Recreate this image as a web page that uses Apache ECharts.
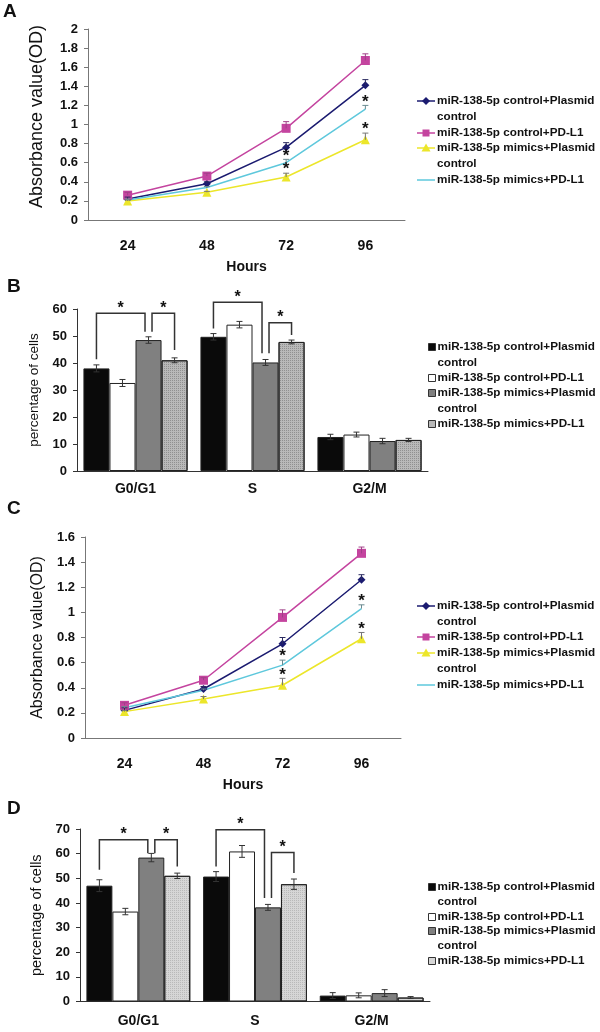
<!DOCTYPE html>
<html><head><meta charset="utf-8">
<script src="https://cdn.jsdelivr.net/npm/echarts@6/dist/echarts.min.js"></script>
<style>html,body{margin:0;padding:0;background:#fff}#c{width:600px;height:1032px}</style>
</head><body><div id="c"></div>
<script>
// ---------- data ----------
const hours = ['24', '48', '72', '96'];
const phases = ['G0/G1', 'S', 'G2/M'];
const groupNames = ['miR-138-5p control+Plasmid control', 'miR-138-5p control+PD-L1', 'miR-138-5p mimics+Plasmid control', 'miR-138-5p mimics+PD-L1'];
const legendLabels = ['miR-138-5p control+Plasmid\ncontrol', 'miR-138-5p control+PD-L1', 'miR-138-5p mimics+Plasmid\ncontrol', 'miR-138-5p mimics+PD-L1'];

// Panel A: absorbance (OD)
const odA_ctrlPlasmid = [0.22, 0.38, 0.76, 1.41];
const odA_ctrlPDL1    = [0.26, 0.46, 0.96, 1.67];
const odA_mimPlasmid  = [0.20, 0.29, 0.45, 0.84];
const odA_mimPDL1     = [0.21, 0.34, 0.60, 1.16];
const errA_ctrlPlasmid = [0.02, 0.02, 0.05, 0.06];
const errA_ctrlPDL1    = [0.03, 0.03, 0.07, 0.07];
const errA_mimPlasmid  = [0.01, 0.01, 0.04, 0.07];
const errA_mimPDL1     = [0.01, 0.01, 0.035, 0.04];
const starA_mimPlasmid = [0, 0, 1, 1];
const starA_mimPDL1    = [0, 0, 1, 1];

// Panel B: cell cycle (%)
const pctB_ctrlPlasmid = [38.0, 49.7, 12.6];
const pctB_ctrlPDL1    = [32.6, 54.2, 13.5];
const pctB_mimPlasmid  = [48.5, 40.2, 11.1];
const pctB_mimPDL1     = [41.0, 47.8, 11.5];
const errB_ctrlPlasmid = [1.3, 1.2, 1.0];
const errB_ctrlPDL1    = [1.3, 1.2, 0.9];
const errB_mimPlasmid  = [1.2, 1.1, 1.0];
const errB_mimPDL1     = [0.9, 0.7, 0.6];
// significance brackets: [phase, fromGroup, toGroup, topValue, leftEndValue, rightEndValue]
const bracketsB = [[0, 0, 2, 58.4, 41.4, 51.6], [0, 2, 3, 58.4, 51.6, 44.8], [1, 0, 2, 62.5, 52.8, 43.6], [1, 2, 3, 54.9, 43.6, 50.4]];

// Panel C: absorbance (OD)
const odC_ctrlPlasmid = [0.22, 0.39, 0.75, 1.26];
const odC_ctrlPDL1    = [0.26, 0.46, 0.96, 1.47];
const odC_mimPlasmid  = [0.21, 0.31, 0.42, 0.79];
const odC_mimPDL1     = [0.24, 0.38, 0.58, 1.03];
const errC_ctrlPlasmid = [0.02, 0.02, 0.05, 0.04];
const errC_ctrlPDL1    = [0.02, 0.02, 0.06, 0.05];
const errC_mimPlasmid  = [0.01, 0.02, 0.055, 0.05];
const errC_mimPDL1     = [0.01, 0.01, 0.04, 0.03];
const starC_mimPlasmid = [0, 0, 1, 1];
const starC_mimPDL1    = [0, 0, 1, 1];

// Panel D: cell cycle (%)
const pctD_ctrlPlasmid = [47.0, 50.7, 2.4];
const pctD_ctrlPDL1    = [36.5, 60.9, 2.5];
const pctD_mimPlasmid  = [58.4, 38.2, 3.4];
const pctD_mimPDL1     = [51.0, 47.6, 1.6];
const errD_ctrlPlasmid = [2.4, 2.0, 1.2];
const errD_ctrlPDL1    = [1.3, 2.4, 1.0];
const errD_mimPlasmid  = [1.7, 1.2, 1.4];
const errD_mimPDL1     = [1.1, 2.1, 0.4];
const bracketsD = [[0, 0, 2, 65.6, 53.5, 60.2], [0, 2, 3, 65.6, 60.2, 54.8], [1, 0, 2, 69.7, 54.8, 42.0], [1, 2, 3, 60.5, 42.0, 52.1]];

// ---------- styles ----------
const FONT = '"Liberation Sans", Arial, sans-serif';
const lineColors = ['#1b1b70', '#c4449f', '#ece62a', '#5ec8dc'];
const errColors = ['#2a2a60', '#a04088', '#777777', '#6a8a90'];
const symbols = ['diamond', 'rect', 'triangle', 'none'];
const symbolSizes = [8, 9, 9, 0];
const barColorsB = ['#0a0a0a', '#ffffff', '#808080', '#b9b9b9'];
const barColorsD = ['#0a0a0a', '#ffffff', '#808080', '#d6d6d6'];
const CAT_GAP = 0.11;

const grids = [
  {left: 88, top: 29, width: 317, height: 191},
  {left: 77, top: 309, width: 351, height: 162},
  {left: 85, top: 537, width: 316, height: 201},
  {left: 80, top: 829, width: 350, height: 172.5}
];

function lineXAxis(gi) {
  return {
    type: 'category', gridIndex: gi, data: hours, boundaryGap: true,
    axisLine: {lineStyle: {color: '#777', width: 1}},
    axisTick: {inside: true, length: 4, lineStyle: {color: '#777'}},
    axisLabel: {margin: 19, fontFamily: FONT, fontWeight: 'bold', fontSize: 14, color: '#111'},
    name: 'Hours', nameLocation: 'middle', nameGap: 40,
    nameTextStyle: {fontFamily: FONT, fontWeight: 'bold', fontSize: 14, color: '#111'}
  };
}
function barXAxis(gi, margin) {
  return {
    type: 'category', gridIndex: gi, data: phases, boundaryGap: true,
    axisLine: {lineStyle: {color: '#333', width: 1}},
    axisTick: {inside: true, length: 3, lineStyle: {color: '#333'}},
    axisLabel: {margin: margin, fontFamily: FONT, fontWeight: 'bold', fontSize: 14, color: '#111'}
  };
}
function yAxis(gi, max, interval, name, nameSize, nameGap, color, pad) {
  return {
    type: 'value', gridIndex: gi, min: 0, max: max, interval: interval,
    splitLine: {show: false},
    axisLine: {show: true, lineStyle: {color: color, width: 1}},
    axisTick: {show: true, inside: false, length: 4, lineStyle: {color: color}},
    axisLabel: {margin: 10, fontFamily: FONT, fontWeight: 'bold', fontSize: 13, color: '#111'},
    name: name, nameLocation: 'middle', nameGap: nameGap,
    nameTextStyle: {fontFamily: FONT, fontSize: nameSize, color: '#111', padding: pad || 0}
  };
}

function lineSeries(gi, arrays) {
  return arrays.map((arr, s) => ({
    type: 'line', name: groupNames[s], xAxisIndex: gi, yAxisIndex: gi, data: arr,
    symbol: symbols[s], symbolSize: symbolSizes[s], showSymbol: s !== 3,
    lineStyle: {color: lineColors[s], width: 1.5},
    itemStyle: {color: lineColors[s]}, z: 3 + (s === 1 ? 1 : 0)
  }));
}
function lineErrSeries(gi, vals, errs, stars) {
  const data = [];
  vals.forEach((arr, s) => arr.forEach((v, i) => data.push([i, v, errs[s][i], s, stars[s] ? stars[s][i] : 0])));
  return {
    type: 'custom', xAxisIndex: gi, yAxisIndex: gi, data: data, encode: {x: 0, y: 1}, z: 5,
    renderItem: function (params, api) {
      const i = api.value(0), v = api.value(1), e = api.value(2), s = api.value(3), st = api.value(4);
      const p0 = api.coord([i, v]), p1 = api.coord([i, v + e]);
      const c = errColors[s];
      const ch = [
        {type: 'line', shape: {x1: p0[0], y1: p0[1], x2: p1[0], y2: p1[1]}, style: {stroke: c, lineWidth: 1}},
        {type: 'line', shape: {x1: p1[0] - 3, y1: p1[1], x2: p1[0] + 3, y2: p1[1]}, style: {stroke: c, lineWidth: 1}}
      ];
      if (st) ch.push({type: 'text', style: {text: '*', x: p1[0], y: p1[1] + 5, align: 'center', verticalAlign: 'bottom', font: 'bold 17px ' + FONT, fill: '#111'}});
      return {type: 'group', children: ch};
    }
  };
}

function barSeries(gi, arrays, colors, decalColor) {
  return arrays.map((arr, s) => ({
    type: 'bar', name: groupNames[s], xAxisIndex: gi, yAxisIndex: gi, data: arr,
    barGap: '0%', barCategoryGap: (CAT_GAP * 100) + '%',
    itemStyle: Object.assign({color: colors[s], borderColor: '#222', borderWidth: 1},
      s === 3 ? {decal: {symbol: 'rect', symbolSize: 1, color: decalColor, dashArrayX: [1, 1], dashArrayY: [1, 1]}} : {})
  }));
}
function barCenter(api, cat, s) {
  const band = api.size([1, 0])[0];
  const bw = band * (1 - CAT_GAP) / 4;
  return api.coord([cat, 0])[0] + (s - 1.5) * bw;
}
function barErrSeries(gi, vals, errs) {
  const data = [];
  vals.forEach((arr, s) => arr.forEach((v, i) => data.push([i, v, errs[s][i], s])));
  return {
    type: 'custom', xAxisIndex: gi, yAxisIndex: gi, data: data, encode: {x: 0, y: 1}, z: 5,
    renderItem: function (params, api) {
      const i = api.value(0), v = api.value(1), e = api.value(2), s = api.value(3);
      const x = barCenter(api, i, s);
      const yt = api.coord([i, v + e])[1], yb = api.coord([i, v - e])[1];
      const st = {stroke: '#333', lineWidth: 1};
      return {type: 'group', children: [
        {type: 'line', shape: {x1: x, y1: yt, x2: x, y2: yb}, style: st},
        {type: 'line', shape: {x1: x - 3, y1: yt, x2: x + 3, y2: yt}, style: st},
        {type: 'line', shape: {x1: x - 3, y1: yb, x2: x + 3, y2: yb}, style: st}
      ]};
    }
  };
}
function bracketSeries(gi, brackets) {
  return {
    type: 'custom', xAxisIndex: gi, yAxisIndex: gi, data: brackets, encode: {x: 0, y: 3}, z: 6,
    renderItem: function (params, api) {
      const cat = api.value(0), a = api.value(1), b = api.value(2);
      const top = api.value(3), lv = api.value(4), rv = api.value(5);
      const xl = barCenter(api, cat, a) + (a === 2 ? 3.5 : 0);
      const xr = barCenter(api, cat, b) - (b === 2 ? 3.5 : 0);
      const yt = api.coord([cat, top])[1], yl = api.coord([cat, lv])[1], yr = api.coord([cat, rv])[1];
      return {type: 'group', children: [
        {type: 'polyline', shape: {points: [[xl, yl], [xl, yt], [xr, yt], [xr, yr]]}, style: {stroke: '#333', lineWidth: 1.5, fill: null}},
        {type: 'text', style: {text: '*', x: (xl + xr) / 2, y: yt + 3, align: 'center', verticalAlign: 'bottom', font: 'bold 16px ' + FONT, fill: '#111'}}
      ]};
    }
  };
}

// ---------- legends (graphic) ----------
const LEG_FONT = 'bold 11.7px ' + FONT;
function lineLegend(firstCenters, lh) {
  const g = [];
  firstCenters.forEach((yc, s) => {
    g.push({type: 'line', shape: {x1: 417, y1: yc, x2: 435, y2: yc}, style: {stroke: lineColors[s], lineWidth: 1.5}});
    if (s === 0) g.push({type: 'polygon', shape: {points: [[426, yc - 4], [430, yc], [426, yc + 4], [422, yc]]}, style: {fill: lineColors[s]}});
    if (s === 1) g.push({type: 'rect', shape: {x: 422.5, y: yc - 3.5, width: 7, height: 7}, style: {fill: lineColors[s]}});
    if (s === 2) g.push({type: 'polygon', shape: {points: [[426, yc - 4.5], [430.5, yc + 3.5], [421.5, yc + 3.5]]}, style: {fill: lineColors[s]}});
    g.push({type: 'text', style: {text: legendLabels[s], x: 437, y: yc - lh / 2, lineHeight: lh, verticalAlign: 'top', font: LEG_FONT, fill: '#111'}});
  });
  return g;
}
function barLegend(firstCenters, lh, colors) {
  const g = [];
  firstCenters.forEach((yc, s) => {
    g.push({type: 'rect', shape: {x: 428.5, y: yc - 3.5, width: 7, height: 7}, style: {fill: colors[s], stroke: '#333', lineWidth: 1}});
    g.push({type: 'text', style: {text: legendLabels[s], x: 437.5, y: yc - lh / 2, lineHeight: lh, verticalAlign: 'top', font: LEG_FONT, fill: '#111'}});
  });
  return g;
}
function panelLetter(t, x, yc) {
  return {type: 'text', style: {text: t, x: x, y: yc, verticalAlign: 'middle', font: 'bold 19px ' + FONT, fill: '#111'}};
}

const option = {
  animation: false,
  backgroundColor: '#fff',
  grid: grids,
  xAxis: [lineXAxis(0), barXAxis(1, 11), lineXAxis(2), barXAxis(3, 13)],
  yAxis: [
    yAxis(0, 2, 0.2, 'Absorbance value(OD)', 18, 42, '#777', [0, 0, 0, 16]),
    yAxis(1, 60, 10, 'percentage of cells', 13.5, 32, '#333'),
    yAxis(2, 1.6, 0.2, 'Absorbance value(OD)', 16, 37, '#777'),
    yAxis(3, 70, 10, 'percentage of cells', 14.5, 33, '#333')
  ],
  series: [].concat(
    lineSeries(0, [odA_ctrlPlasmid, odA_ctrlPDL1, odA_mimPlasmid, odA_mimPDL1]),
    [lineErrSeries(0, [odA_ctrlPlasmid, odA_ctrlPDL1, odA_mimPlasmid, odA_mimPDL1],
      [errA_ctrlPlasmid, errA_ctrlPDL1, errA_mimPlasmid, errA_mimPDL1], [null, null, starA_mimPlasmid, starA_mimPDL1])],
    barSeries(1, [pctB_ctrlPlasmid, pctB_ctrlPDL1, pctB_mimPlasmid, pctB_mimPDL1], barColorsB, 'rgba(70,70,70,0.35)'),
    [barErrSeries(1, [pctB_ctrlPlasmid, pctB_ctrlPDL1, pctB_mimPlasmid, pctB_mimPDL1],
      [errB_ctrlPlasmid, errB_ctrlPDL1, errB_mimPlasmid, errB_mimPDL1]), bracketSeries(1, bracketsB)],
    lineSeries(2, [odC_ctrlPlasmid, odC_ctrlPDL1, odC_mimPlasmid, odC_mimPDL1]),
    [lineErrSeries(2, [odC_ctrlPlasmid, odC_ctrlPDL1, odC_mimPlasmid, odC_mimPDL1],
      [errC_ctrlPlasmid, errC_ctrlPDL1, errC_mimPlasmid, errC_mimPDL1], [null, null, starC_mimPlasmid, starC_mimPDL1])],
    barSeries(3, [pctD_ctrlPlasmid, pctD_ctrlPDL1, pctD_mimPlasmid, pctD_mimPDL1], barColorsD, 'rgba(120,120,120,0.3)'),
    [barErrSeries(3, [pctD_ctrlPlasmid, pctD_ctrlPDL1, pctD_mimPlasmid, pctD_mimPDL1],
      [errD_ctrlPlasmid, errD_ctrlPDL1, errD_mimPlasmid, errD_mimPDL1]), bracketSeries(3, bracketsD)]
  ),
  graphic: [].concat(
    [panelLetter('A', 3, 12), panelLetter('B', 7, 287), panelLetter('C', 7, 509), panelLetter('D', 7, 809)],
    lineLegend([101, 133, 148, 180], 15.8),
    barLegend([347, 378, 393, 424], 15.5, barColorsB),
    lineLegend([606, 637, 653, 685], 15.8),
    barLegend([887, 917, 931, 961], 14.8, barColorsD)
  )
};

const chart = echarts.init(document.getElementById('c'), null, {renderer: 'canvas'});
chart.setOption(option);
</script>
</body></html>
